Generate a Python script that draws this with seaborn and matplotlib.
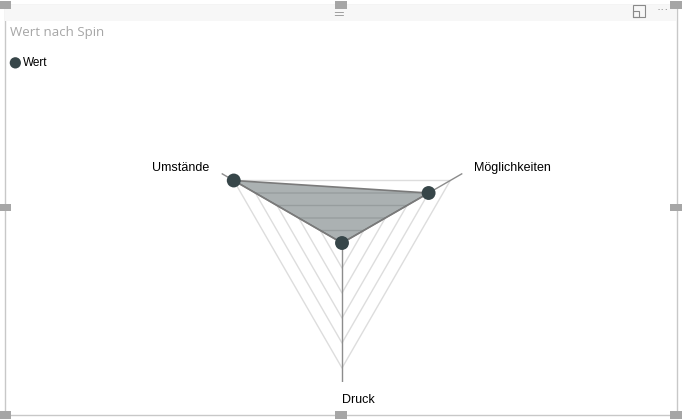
import numpy as np
import pandas as pd
import matplotlib
matplotlib.use('Agg')
import matplotlib.pyplot as plt
from matplotlib import patches
import seaborn as sns

# data (5 grid rings, no tick labels)
spin = ['Umstände', 'Möglichkeiten', 'Druck']
wert = [5.0, 4.0, 0.0]
angles_deg = [150, 30, 270]   # axis directions, as in the reference
levels = [1, 2, 3, 4, 5]

df = pd.DataFrame({'spin': spin, 'wert': wert, 'theta': np.deg2rad(angles_deg)})

sns.set_theme(style='white')
plt.rcParams['font.family'] = ['Liberation Sans', 'DejaVu Sans']

dark = '#374649'
rmax = 5 * 139 / 125   # axis lines run a bit past the outer ring

fig = plt.figure(figsize=(6.82, 4.19), dpi=100)

def px(x, y):
    # pixel (from top left) -> figure fraction
    return x / 682, 1 - y / 419

# visual frame, header band and handles
fig.patches.append(patches.Rectangle((0.007, 0.010), 0.985, 0.978, transform=fig.transFigure,
                                     fill=False, edgecolor='#c8c8c8', linewidth=1))
fig.patches.append(patches.Rectangle((0.008, 0.950), 0.983, 0.037, transform=fig.transFigure,
                                     facecolor='#f7f7f7', edgecolor='none'))
for hx, hy in [(0.007, 0.988), (0.5, 0.988), (0.992, 0.988), (0.007, 0.505), (0.992, 0.505),
               (0.007, 0.010), (0.5, 0.010), (0.992, 0.010)]:
    fig.patches.append(patches.Rectangle((hx - 0.009, hy - 0.009), 0.018, 0.018, transform=fig.transFigure,
                                         facecolor='#a6a6a6', edgecolor='none'))
fig.text(0.49, 0.965, '\u2550', ha='left', va='center', color='#9a9a9a', fontsize=9)
# focus-mode icon
fig.patches.append(patches.Rectangle(px(633, 17), 12 / 682, 12 / 419, transform=fig.transFigure,
                                     fill=False, edgecolor='#8a8a8a', linewidth=0.8))
fig.patches.append(patches.Rectangle(px(633, 17), 6 / 682, 6 / 419, transform=fig.transFigure,
                                     fill=False, edgecolor='#8a8a8a', linewidth=0.8))
fig.text(0.972, 0.975, '\u00b7\u00b7\u00b7', ha='center', va='center', color='#8a8a8a', fontsize=9)

fig.text(0.015, 0.922, 'Wert nach Spin', ha='left', va='center', color='#a6a6a6',
         fontsize=9.5, family=['Open Sans', 'DejaVu Sans'])
fig.text(0.034, 0.850, 'Wert', ha='left', va='center', color='black', fontsize=8.5)
fig.patches.append(patches.Ellipse((0.0225, 0.850), 0.0165, 0.027, transform=fig.transFigure,
                                   facecolor=dark, edgecolor='none'))

ax = fig.add_axes([(342 - 139) / 682, (419 - 243 - 139) / 419, 278 / 682, 278 / 419],
                  projection='polar')
ax.set_ylim(0, rmax)
ax.grid(False)
ax.set_xticks([])
ax.set_yticks([])
ax.spines['polar'].set_visible(False)
ax.patch.set_alpha(0)

theta_closed = list(df['theta']) + [df['theta'].iloc[0]]

# polygon grid rings
for lv in levels:
    ax.plot(theta_closed, [lv] * len(theta_closed), color='#dddddd', linewidth=1, zorder=1)

# axis spokes
for t in df['theta']:
    ax.plot([t, t], [0, rmax], color='#8c8c8c', linewidth=1, zorder=2)

vals_closed = list(df['wert']) + [df['wert'].iloc[0]]
ax.fill(theta_closed, vals_closed, color=dark, alpha=0.42, linewidth=0, zorder=3)
ax.plot(theta_closed, vals_closed, color='#7a7a7a', linewidth=1.2, zorder=4)
sns.scatterplot(data=df, x='theta', y='wert', ax=ax, color=dark, s=100, edgecolor='none',
                zorder=5, legend=False)
ax.set_xlabel('')
ax.set_ylabel('')

# category labels
lab_pos = {'Umstände': (150.6, 152), 'Möglichkeiten': (29.6, 152), 'Druck': (270.0, 157)}
lab_ha = {'Umstände': 'right', 'Möglichkeiten': 'left', 'Druck': 'left'}
for name in df['spin']:
    a, r = lab_pos[name]
    ax.text(np.deg2rad(a), r / 139 * rmax, name, ha=lab_ha[name], va='center',
            fontsize=9, color='black', clip_on=False)

fig.savefig('out.png', dpi=100)
